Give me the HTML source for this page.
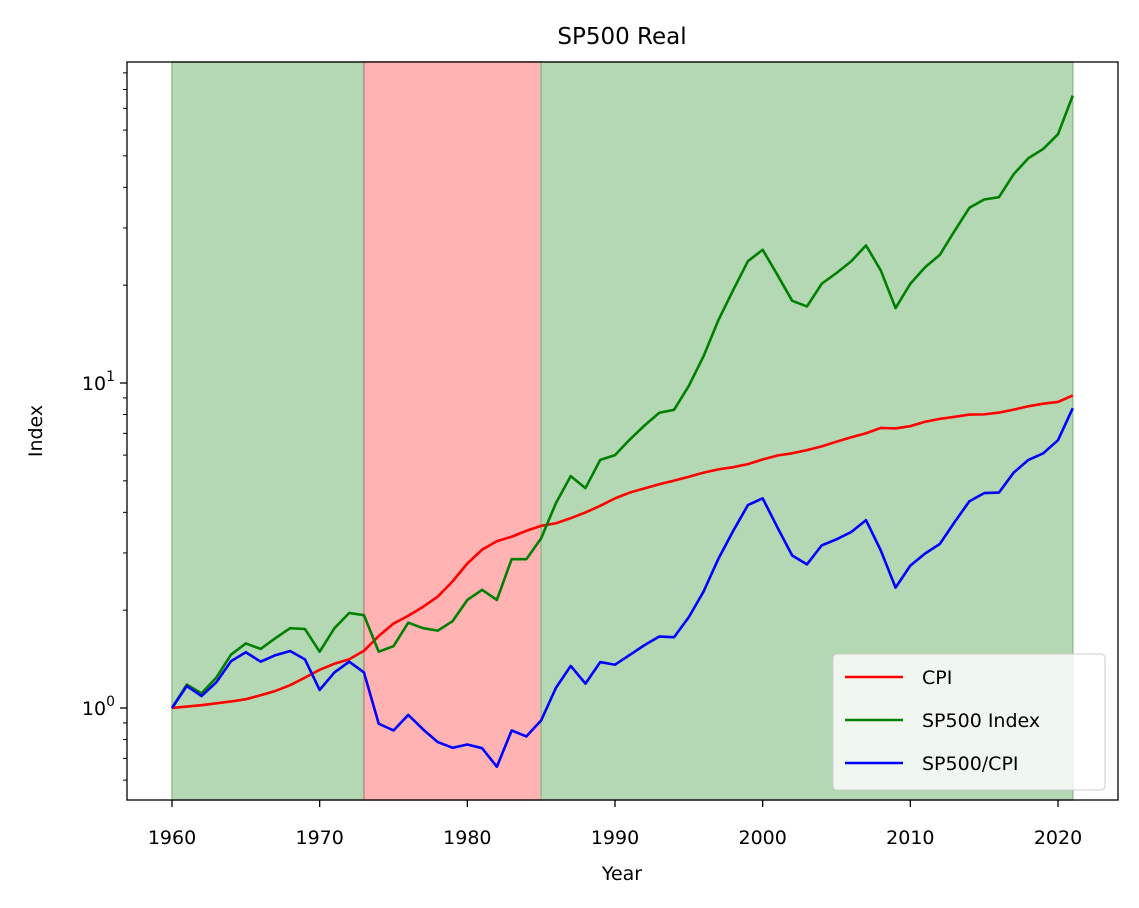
<!DOCTYPE html>
<html><head><meta charset="utf-8"><style>
body{margin:0;background:#fff}
svg{display:block;font-family:"DejaVu Sans","Liberation Sans",sans-serif}
</style></head><body>
<svg id="chart" width="1139" height="908"></svg>
<script>
const years=[];for(let y=1960;y<=2021;y++)years.push(y);
const cpiRaw=[29.6,29.9,30.2,30.6,31.0,31.5,32.4,33.4,34.8,36.7,38.8,40.5,41.8,44.4,49.3,53.8,56.9,60.6,65.2,72.6,82.4,90.9,96.5,99.6,103.9,107.6,109.6,113.6,118.3,124.0,130.7,136.2,140.3,144.5,148.2,152.4,156.9,160.5,163.0,166.6,172.2,177.1,179.9,184.0,188.9,195.3,201.6,207.3,215.3,214.5,218.1,224.9,229.6,233.0,236.7,237.0,240.0,245.1,251.1,255.7,258.8,271.0];
const sp500=[1.0,1.18,1.11,1.24,1.46,1.58,1.52,1.64,1.76,1.75,1.49,1.76,1.96,1.93,1.49,1.55,1.83,1.76,1.73,1.85,2.15,2.31,2.15,2.87,2.87,3.33,4.27,5.17,4.75,5.8,6.0,6.7,7.4,8.1,8.27,9.8,12.1,15.6,19.3,23.7,25.7,21.5,17.9,17.2,20.2,21.8,23.7,26.5,22.2,17.0,20.2,22.7,24.8,29.4,34.6,36.7,37.3,43.9,49.2,52.5,58.3,76.6];
const xTicks=[1960,1970,1980,1990,2000,2010,2020];
const bands=[[1960,1973,'green'],[1973,1985,'red'],[1985,2021,'green']];
const L=127,R=1118,T=62,B=800;
const X=v=>172+(v-1960)*(1058-172)/60;
const Y=v=>708-Math.log10(v)*325;
const svg=document.getElementById('chart');
const NS='http://www.w3.org/2000/svg';
function mk(t,a,p){const e=document.createElementNS(NS,t);for(const k in a)e.setAttribute(k,a[k]);(p||svg).appendChild(e);return e;}
bands.forEach((b,i)=>{
 const r=mk('rect',{x:X(b[0]),y:T,width:X(b[1])-X(b[0]),height:B-T,fill:b[2]=='green'?'#b3d8b3':'#ffb3b3',stroke:b[2]=='green'?'#8fc08f':'#c88a80','stroke-width':1.5});
 
 
});
const cpi=cpiRaw.map(v=>v/cpiRaw[0]);
const ratio=sp500.map((v,i)=>v/cpi[i]);
[[cpi,'red','cpi-line'],[sp500,'green','sp500-line'],[ratio,'blue','sp500-cpi-line']].forEach(s=>{
 const p=mk('polyline',{points:s[0].map((v,i)=>X(years[i])+','+Y(v)).join(' '),fill:'none',stroke:s[1],'stroke-width':2.6,'stroke-linejoin':'round'});
 
 
});
mk('rect',{x:L,y:T,width:R-L,height:B-T,fill:'none',stroke:'#000','stroke-width':1.3});
xTicks.forEach(t=>{
 mk('line',{x1:X(t),x2:X(t),y1:B,y2:B+7,stroke:'#000','stroke-width':1.3});
 const tx=mk('text',{x:X(t),y:B+44,'text-anchor':'middle','font-size':19});tx.textContent=t;
 
 
});
[0.6,0.7,0.8,0.9,2,3,4,5,6,7,8,9,20,30,40,50,60,70,80,90].forEach(v=>{
 if(Y(v)>T&&Y(v)<B)mk('line',{x1:L-4,x2:L,y1:Y(v),y2:Y(v),stroke:'#000','stroke-width':1});
});
[[1,'0'],[10,'1']].forEach(m=>{
 mk('line',{x1:L-7,x2:L,y1:Y(m[0]),y2:Y(m[0]),stroke:'#000','stroke-width':1.3});
 const tx=mk('text',{x:L-12,y:Y(m[0])+7,'text-anchor':'end','font-size':19});
 
 
 tx.innerHTML='10<tspan dy="-9" font-size="14">'+m[1]+'</tspan>';
});
</script>
<svg width="1139" height="908" style="position:absolute;left:0;top:0">
<text x="622" y="44" text-anchor="middle" font-size="23">SP500 Real</text>
<text x="622" y="880" text-anchor="middle" font-size="19">Year</text>
<text x="42" y="431" text-anchor="middle" font-size="19" transform="rotate(-90 42 431)">Index</text>
<g>
<rect x="833" y="654" width="272" height="136" rx="4" fill="rgba(255,255,255,0.8)" stroke="#ccc"/>
<line x1="845" x2="903" y1="677" y2="677" stroke="red" stroke-width="2.6"/>
<text x="922" y="684" font-size="19">CPI</text>
<line x1="845" x2="903" y1="720" y2="720" stroke="green" stroke-width="2.6"/>
<text x="922" y="727" font-size="19">SP500 Index</text>
<line x1="845" x2="903" y1="763" y2="763" stroke="blue" stroke-width="2.6"/>
<text x="922" y="770" font-size="19">SP500/CPI</text>
</g>
</svg>
</body></html>
